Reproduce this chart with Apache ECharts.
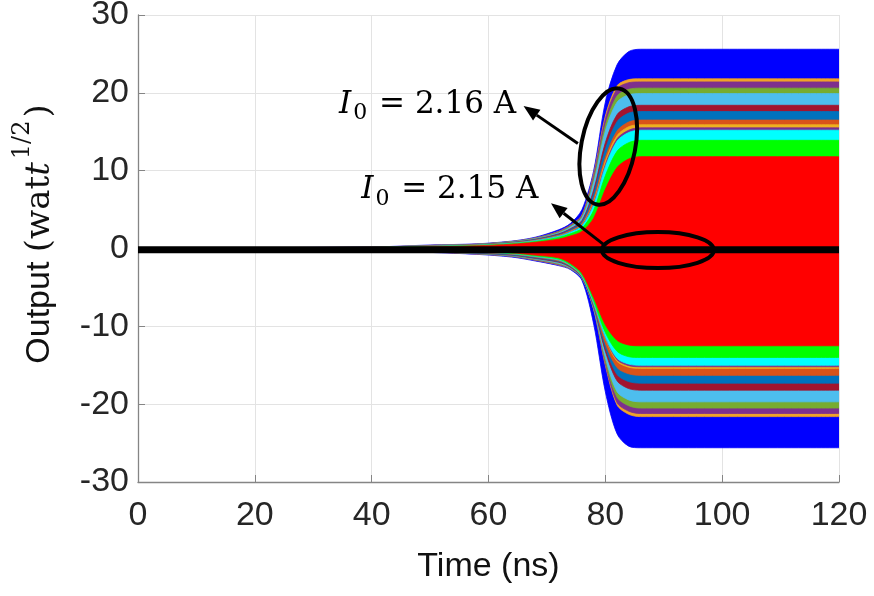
<!DOCTYPE html>
<html>
<head>
<meta charset="utf-8">
<script src="https://cdn.jsdelivr.net/npm/echarts@6.0.0/dist/echarts.min.js"></script>
<style>
  html, body { margin: 0; padding: 0; background: #fff; }
  #chart { width: 874px; height: 596px; }
</style>
</head>
<body>
<div id="chart"></div>
<script>
// sample times (ns) shared by every envelope
var timeNs = [0, 40, 50, 58, 64, 68, 72, 74, 76, 78, 80, 82, 84, 86, 120];

// upper / lower envelopes, outermost band first
var blueUp = [0.05, 0.2, 0.45, 0.6, 0.95, 1.45, 2.4, 3.2, 5.0, 10.0, 18.8, 23.6, 25.3, 25.6, 25.6];
var blueLo = [-0.05, -0.25, -0.5, -0.75, -1.1, -1.6, -2.2, -2.7, -4.1, -9.7, -18.4, -23.8, -25.4, -25.6, -25.6];
var orangeUp = [0.04, 0.18, 0.4, 0.55, 0.9, 1.35, 2.2, 3.0, 4.3, 9.6, 17.0, 20.9, 21.7, 21.8, 21.8];
var orangeLo = [-0.04, -0.22, -0.45, -0.7, -1.0, -1.5, -2.1, -2.6, -3.8, -7.8, -15.0, -20.1, -21.3, -21.6, -21.6];
var purpleUp = [0.04, 0.18, 0.39, 0.55, 0.89, 1.33, 2.18, 2.97, 4.25, 9.4, 16.6, 20.5, 21.3, 21.4, 21.4];
var purpleLo = [-0.04, -0.22, -0.44, -0.69, -0.98, -1.47, -2.06, -2.57, -3.8, -7.8, -14.8, -19.8, -20.9, -21.2, -21.2];
var oliveUp = [0.04, 0.17, 0.38, 0.53, 0.87, 1.3, 2.1, 2.85, 4.1, 8.9, 15.8, 19.6, 20.45, 20.6, 20.6];
var oliveLo = [-0.038, -0.21, -0.42, -0.66, -0.95, -1.42, -1.99, -2.54, -3.8, -7.75, -14.5, -19.1, -20.2, -20.5, -20.5];
var skyUp = [0.035, 0.17, 0.37, 0.52, 0.84, 1.26, 2.0, 2.75, 3.95, 8.45, 15.1, 18.8, 19.75, 19.9, 19.9];
var skyLo = [-0.036, -0.2, -0.4, -0.64, -0.92, -1.36, -1.91, -2.5, -3.8, -7.7, -14.0, -18.4, -19.45, -19.7, -19.7];
var crimsonUp = [0.034, 0.16, 0.34, 0.49, 0.79, 1.19, 1.88, 2.53, 3.6, 7.5, 13.6, 17.2, 18.2, 18.4, 18.4];
var crimsonLo = [-0.033, -0.18, -0.37, -0.6, -0.86, -1.28, -1.77, -2.4, -3.75, -7.5, -13.2, -17.0, -18.0, -18.2, -18.2];
var steelUp = [0.032, 0.15, 0.32, 0.47, 0.76, 1.15, 1.8, 2.42, 3.42, 7.0, 12.75, 16.3, 17.4, 17.6, 17.6];
var steelLo = [-0.031, -0.16, -0.35, -0.58, -0.83, -1.2, -1.68, -2.33, -3.7, -7.4, -12.7, -16.2, -17.1, -17.3, -17.3];
var rustUp = [0.03, 0.14, 0.3, 0.45, 0.72, 1.07, 1.69, 2.27, 3.18, 6.4, 11.7, 15.1, 16.25, 16.5, 16.5];
var rustLo = [-0.028, -0.15, -0.31, -0.5, -0.74, -1.1, -1.58, -2.27, -3.6, -7.2, -12.2, -15.3, -16.1, -16.3, -16.3];
var yellowUp = [0.03, 0.135, 0.29, 0.44, 0.7, 1.03, 1.63, 2.18, 3.06, 6.0, 11.2, 14.5, 15.65, 15.9, 15.9];
var yellowLo = [-0.026, -0.14, -0.28, -0.46, -0.69, -1.05, -1.49, -2.19, -3.55, -7.05, -11.6, -14.5, -15.25, -15.4, -15.4];
var violetUp = [0.028, 0.13, 0.28, 0.43, 0.69, 1.01, 1.59, 2.13, 2.98, 5.8, 10.8, 14.1, 15.2, 15.5, 15.5];
var violetLo = [-0.026, -0.135, -0.28, -0.45, -0.68, -1.04, -1.47, -2.16, -3.5, -7.0, -11.5, -14.3, -15.05, -15.2, -15.2];
var cyanUp = [0.027, 0.13, 0.27, 0.42, 0.67, 0.99, 1.56, 2.08, 2.9, 5.6, 10.5, 13.8, 14.9, 15.2, 15.2];
var cyanLo = [-0.025, -0.13, -0.27, -0.44, -0.67, -1.02, -1.46, -2.15, -3.5, -7.0, -11.4, -14.1, -14.85, -15.0, -15.0];
var greenUp = [0.024, 0.12, 0.24, 0.39, 0.62, 0.9, 1.42, 1.89, 2.6, 4.9, 9.35, 12.5, 13.6, 13.9, 13.9];
var greenLo = [-0.023, -0.12, -0.24, -0.4, -0.62, -0.95, -1.36, -2.06, -3.4, -6.7, -10.8, -13.2, -13.9, -14.0, -14.0];
var redUp = [0.02, 0.1, 0.2, 0.35, 0.55, 0.8, 1.2, 1.6, 2.2, 3.9, 7.6, 10.4, 11.5, 11.8, 11.8];
var redLo = [-0.02, -0.1, -0.2, -0.35, -0.55, -0.85, -1.2, -1.9, -3.2, -6.3, -9.8, -11.8, -12.4, -12.5, -12.5];

// I0 = 2.15 A trace: stays flat at zero
var flatTime = [0, 120];
var flatOut = [-0.15, -0.15];

var xTicks = [0, 20, 40, 60, 80, 100, 120];
var yTicks = [-30, -20, -10, 0, 10, 20, 30];

var chart = echarts.init(document.getElementById('chart'));

var bands = [
  { up: blueUp, lo: blueLo, color: '#0000FF' },
  { up: orangeUp, lo: orangeLo, color: '#F0A22A' },
  { up: purpleUp, lo: purpleLo, color: '#7E2F8E' },
  { up: oliveUp, lo: oliveLo, color: '#77AC30' },
  { up: skyUp, lo: skyLo, color: '#4DBEEE' },
  { up: crimsonUp, lo: crimsonLo, color: '#A2142F' },
  { up: steelUp, lo: steelLo, color: '#0072BD' },
  { up: rustUp, lo: rustLo, color: '#D95319' },
  { up: yellowUp, lo: yellowLo, color: '#EDB120' },
  { up: violetUp, lo: violetLo, color: '#7E2F8E' },
  { up: cyanUp, lo: cyanLo, color: '#00FFFF' },
  { up: greenUp, lo: greenLo, color: '#00FF00' },
  { up: redUp, lo: redLo, color: '#FF0000' }
];

function pairs(xs, ys) {
  return xs.map(function(x, i) { return [x, ys[i]]; });
}

var series = [];
bands.forEach(function(b) {
  [b.up, b.lo].forEach(function(arr) {
    series.push({
      type: 'line',
      data: pairs(timeNs, arr),
      smooth: 0.3,
      symbol: 'none',
      silent: true,
      lineStyle: { width: 0.8, color: b.color },
      areaStyle: { color: b.color, opacity: 1 }
    });
  });
});
series.push({
  type: 'line',
  data: pairs(flatTime, flatOut),
  symbol: 'none',
  silent: true,
  lineStyle: { width: 7, color: '#000' }
});

var tickFont = { fontFamily: 'Liberation Sans, Arial, sans-serif', fontSize: 34, color: '#262626' };

var option = {
  animation: false,
  backgroundColor: '#fff',
  grid: { left: 138, right: 35, top: 15, bottom: 114, containLabel: false, outerBoundsMode: 'none' },
  xAxis: {
    type: 'value',
    min: xTicks[0],
    max: xTicks[xTicks.length - 1],
    interval: 20,
    name: 'Time (ns)',
    nameLocation: 'middle',
    nameGap: 68,
    nameTextStyle: { fontFamily: 'Liberation Sans, Arial, sans-serif', fontSize: 34, color: '#111' },
    axisLine: { onZero: false, lineStyle: { color: '#858585', width: 1.3 } },
    axisTick: { inside: true, length: 7, lineStyle: { color: '#858585' } },
    axisLabel: Object.assign({ margin: 17, formatter: function(v) { return xTicks.indexOf(v) >= 0 ? String(v) : ''; } }, tickFont),
    splitLine: { show: true, lineStyle: { color: '#e3e3e3', width: 1 } }
  },
  yAxis: {
    type: 'value',
    min: yTicks[0],
    max: yTicks[yTicks.length - 1],
    interval: 10,
    axisLine: { onZero: false, lineStyle: { color: '#858585', width: 1.3 } },
    axisTick: { inside: true, length: 7, lineStyle: { color: '#858585' } },
    axisLabel: Object.assign({ margin: 9 }, tickFont),
    splitLine: { show: true, lineStyle: { color: '#e3e3e3', width: 1 } }
  },
  series: series
};
chart.setOption(option);

// annotation anchors in data units (time ns, output)
var ring1 = [80.5, 13.1];
var ring2 = [89.0, -0.2];
var arrow1 = [[75.3, 13.5], [66.0, 18.3]];
var arrow2 = [[79.9, 0.4], [70.7, 5.8]];
var label1 = [34.4, 18.5];
var label2 = [38.2, 7.5];

function px(p) { return chart.convertToPixel({ gridIndex: 0 }, p); }

function arrow(seg) {
  var a = px(seg[0]), b = px(seg[1]);
  var dx = b[0] - a[0], dy = b[1] - a[1];
  var len = Math.sqrt(dx * dx + dy * dy);
  var ux = dx / len, uy = dy / len;
  var head = 16, half = 6.5;
  var bx = b[0] - ux * head, by = b[1] - uy * head;
  return [
    { type: 'line', shape: { x1: a[0], y1: a[1], x2: bx, y2: by }, style: { stroke: '#000', lineWidth: 3 }, z: 100 },
    { type: 'polygon', shape: { points: [[b[0], b[1]], [bx - uy * half, by + ux * half], [bx + uy * half, by - ux * half]] }, style: { fill: '#000' }, z: 100 }
  ];
}

var serif = 'DejaVu Serif, Liberation Serif, serif';
function mathLabel(p, txt) {
  var q = px(p);
  return {
    type: 'text', x: q[0], y: q[1], z: 100,
    style: {
      text: '{i|I}{s|0}{r| = ' + txt + '}',
      align: 'left', verticalAlign: 'middle',
      rich: {
        i: { fontFamily: serif, fontStyle: 'italic', fontSize: 31, fill: '#000' },
        s: { fontFamily: serif, fontSize: 22, fill: '#000', padding: [18, 2, 0, 2] },
        r: { fontFamily: serif, fontSize: 31, fill: '#000' }
      }
    }
  };
}

var c1 = px(ring1), c2 = px(ring2);
var graphics = [
  { type: 'ellipse', x: c1[0], y: c1[1], rotation: -11 * Math.PI / 180, shape: { cx: 0, cy: 0, rx: 27, ry: 59 }, style: { fill: 'none', stroke: '#000', lineWidth: 4 }, z: 100 },
  { type: 'ellipse', shape: { cx: c2[0], cy: c2[1], rx: 56, ry: 18 }, style: { fill: 'none', stroke: '#000', lineWidth: 4 }, z: 100 },
  mathLabel(label1, '2.16 A'),
  mathLabel(label2, '2.15 A'),
  {
    type: 'text', x: 40, y: 234, rotation: Math.PI / 2, z: 100,
    style: {
      text: '{a|Output }{b|(wat}{c|t}{d|1/2}{b|)}',
      align: 'center', verticalAlign: 'middle',
      rich: {
        a: { fontFamily: 'Liberation Sans, Arial, sans-serif', fontSize: 34, fill: '#111' },
        b: { fontFamily: serif, fontSize: 34, fill: '#111' },
        c: { fontFamily: serif, fontStyle: 'italic', fontSize: 34, fill: '#111' },
        d: { fontFamily: serif, fontSize: 24, fill: '#111', padding: [0, 3, 34, 3] }
      }
    }
  }
].concat(arrow(arrow1), arrow(arrow2));

chart.setOption({ graphic: graphics });
</script>
</body>
</html>
